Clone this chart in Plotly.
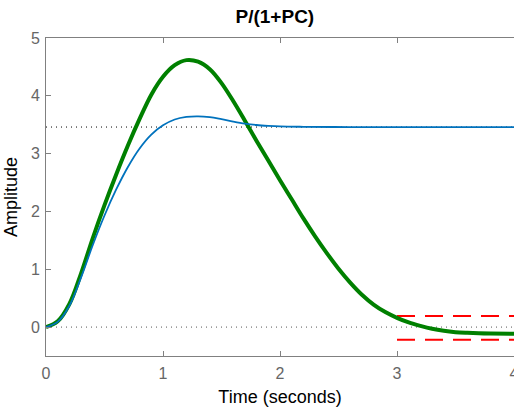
import plotly.graph_objects as go

# Closed-loop step response (blue)
t_blue = [0, 0.1, 0.2, 0.3, 0.4, 0.5, 0.6, 0.7, 0.8, 0.9, 1.0, 1.1, 1.2, 1.3, 1.4, 1.5,
          1.6, 1.7, 1.8, 1.9, 2.0, 2.2, 2.6, 3.0, 3.5, 4.0]
v_blue = [0, 0.09, 0.37, 0.86, 1.42, 1.93, 2.38, 2.77, 3.09, 3.33, 3.49, 3.59, 3.635, 3.645, 3.63, 3.595,
          3.555, 3.52, 3.495, 3.48, 3.47, 3.464, 3.46, 3.46, 3.46, 3.46]

# P/(1+PC) step response (green)
t_green = [0, 0.1, 0.2, 0.3, 0.4, 0.5, 0.6, 0.7, 0.8, 0.9, 1.0, 1.1, 1.2, 1.3, 1.4,
           1.5, 1.6, 1.7, 1.8, 1.9, 2.0, 2.1, 2.2, 2.3, 2.4, 2.5, 2.6, 2.7, 2.8, 2.9,
           3.0, 3.1, 3.2, 3.3, 3.4, 3.5, 3.6, 3.7, 3.8, 4.0]
v_green = [0, 0.1, 0.4, 0.93, 1.54, 2.11, 2.64, 3.14, 3.60, 4.02, 4.33, 4.53, 4.617, 4.59, 4.46,
           4.22, 3.91, 3.57, 3.22, 2.88, 2.54, 2.21, 1.88, 1.57, 1.28, 1.01, 0.77, 0.56, 0.39, 0.26,
           0.16, 0.08, 0.02, -0.03, -0.065, -0.088, -0.10, -0.108, -0.112, -0.115]

steady_blue = 3.46
steady_zero = 0.0
band_upper = 0.19
band_lower = -0.22
band_t = [3, 4]
x_range = [0, 4]
y_range = [-0.5, 5]
x_ticks = [0, 1, 2, 3, 4]
y_ticks = [0, 1, 2, 3, 4, 5]

FONT = "Liberation Sans, Arial, sans-serif"

fig = go.Figure()

fig.add_trace(go.Scatter(x=x_range, y=[steady_zero, steady_zero], mode="lines",
                         line=dict(color="#555555", width=1, dash="1px,4px"), hoverinfo="skip"))
fig.add_trace(go.Scatter(x=x_range, y=[steady_blue, steady_blue], mode="lines",
                         line=dict(color="#000000", width=1, dash="1px,4px"), hoverinfo="skip"))
for yb in (band_upper, band_lower):
    fig.add_trace(go.Scatter(x=band_t, y=[yb, yb], mode="lines",
                             line=dict(color="#FF0000", width=2, dash="18px,10px")))
fig.add_trace(go.Scatter(x=t_green, y=v_green, mode="lines", line_shape="spline",
                         line=dict(color="#008000", width=4, smoothing=1.0)))
fig.add_trace(go.Scatter(x=t_blue, y=v_blue, mode="lines", line_shape="spline",
                         line=dict(color="#0072BD", width=1.8, smoothing=1.0)))

axis_common = dict(showgrid=False, zeroline=False, showline=True, linecolor="#808080",
                   linewidth=1, ticks="inside", ticklen=5, tickcolor="#808080",
                   automargin=False, ticklabeloverflow="allow",
                   tickfont=dict(family=FONT, size=16, color="#666666"))

fig.update_layout(
    width=514, height=408,
    margin=dict(l=46, r=0, t=38, b=52, autoexpand=False),
    paper_bgcolor="white", plot_bgcolor="white",
    showlegend=False,
    title=dict(text="<b>P/(1+PC)</b>", x=0.489, xref="paper", xanchor="center",
               y=1 - 16 / 408, yanchor="middle",
               font=dict(family=FONT, size=19, color="#000000")),
    xaxis=dict(range=x_range, tickvals=x_ticks, mirror="ticks", ticklabelstandoff=3,
               title=dict(text="Time (seconds)", font=dict(family=FONT, size=18, color="#000000"),
                          standoff=9),
               **axis_common),
    yaxis=dict(range=y_range, tickvals=y_ticks, mirror=False, ticklabelstandoff=2,
               title=dict(text="Amplitude", font=dict(family=FONT, size=18, color="#000000"),
                          standoff=8),
               **axis_common),
)

fig.write_html("out.html", config={"displayModeBar": False},
               post_script="document.body.style.margin='0';document.body.style.padding='0';")
